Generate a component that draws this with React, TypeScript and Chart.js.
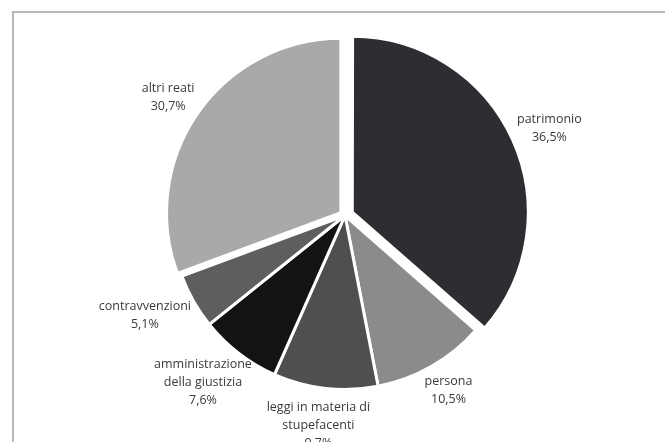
import React, { useEffect, useRef } from "react";
import { Chart, registerables } from "chart.js";

Chart.register(...registerables);

const categories: string[][] = [
  ["patrimonio"],
  ["persona"],
  ["leggi in materia di", "stupefacenti"],
  ["amministrazione", "della giustizia"],
  ["contravvenzioni"],
  ["altri reati"],
];
const values: number[] = [36.5, 10.5, 9.7, 7.6, 5.1, 30.7];
const colors: string[] = ["#2d2d32", "#8b8b8b", "#4f4f4f", "#131313", "#5e5e5e", "#a9a9ab"];
// Chart.js arc offset (the arc is translated by offset / 4 px)
const explode: number[] = [32, 0, 0, 0, 0, 20];

const FONT = "12.5px 'Open Sans', sans-serif";
const LINE_H = 18;

const labelPlugin = {
  id: "outsideLabels",
  afterDatasetsDraw(chart: any) {
    const ctx = chart.ctx;
    const meta = chart.getDatasetMeta(0);
    ctx.save();
    ctx.font = FONT;
    ctx.fillStyle = "#3a3a3a";
    ctx.textAlign = "center";
    ctx.textBaseline = "middle";
    meta.data.forEach((arc: any, i: number) => {
      const p = arc.getProps(["x", "y", "startAngle", "endAngle", "outerRadius"], true);
      const mid = (p.startAngle + p.endAngle) / 2;
      const dx = Math.cos(mid);
      const dy = Math.sin(mid);
      const off = explode[i] / 4;
      const lines = [...categories[i], values[i].toFixed(1).replace(".", ",") + "%"];
      const w = Math.max(...lines.map((l) => ctx.measureText(l).width));
      const h = lines.length * LINE_H;
      const R = p.outerRadius + off + 10;
      const cx = p.x + dx * R + (dx * w) / 2;
      const cy = p.y + dy * R + (dy * h) / 2;
      lines.forEach((l, k) => {
        ctx.fillText(l, cx, cy - h / 2 + LINE_H / 2 + k * LINE_H);
      });
    });
    ctx.restore();
  },
};

export default function App() {
  const ref = useRef<HTMLCanvasElement>(null);
  useEffect(() => {
    if (!ref.current) return;
    const chart = new Chart(ref.current, {
      type: "pie",
      data: {
        labels: categories,
        datasets: [
          {
            data: values,
            backgroundColor: colors,
            borderColor: "#ffffff",
            borderWidth: 3,
            offset: explode,
          },
        ],
      },
      options: {
        animation: false,
        responsive: false,
        layout: { padding: { left: 100, right: 75, top: 24, bottom: 35 } },
        plugins: { legend: { display: false }, tooltip: { enabled: false } },
      },
      plugins: [labelPlugin],
    });
    return () => chart.destroy();
  }, []);
  return (
    <div style={{ position: "fixed", left: 0, top: 0, width: 665, height: 442, background: "#fff" }}>
      <div
        style={{
          position: "absolute",
          left: 12,
          top: 11,
          right: 0,
          bottom: 0,
          borderTop: "2px solid #b8b8b8",
          borderLeft: "2px solid #b8b8b8",
        }}
      />
      <canvas ref={ref} width={665} height={442} style={{ position: "absolute", left: 0, top: 0 }} />
    </div>
  );
}
